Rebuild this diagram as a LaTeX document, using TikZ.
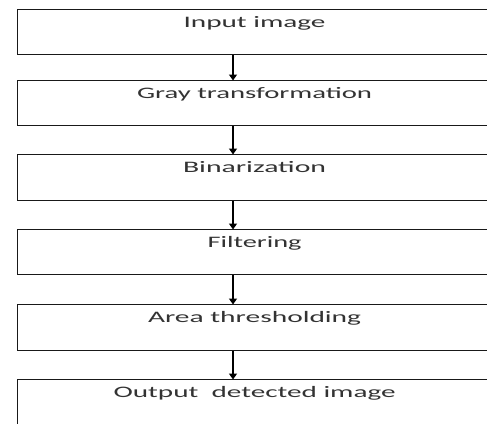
\documentclass[tikz,border=0pt]{standalone}
\usepackage{fontspec}
\setmainfont{Carlito}
\usetikzlibrary{arrows.meta}
\begin{document}
\begin{tikzpicture}[x=1pt,y=1pt,
  stepbox/.style={draw=black!90, line width=1.1pt, rectangle, anchor=north west,
    minimum width=474pt, inner xsep=0pt, inner ysep=0pt,
    text height=17.5pt, text depth=27.5pt, font=\fontsize{16}{18}\selectfont, text=black!80},
  flow/.style={draw=black, line width=1.3pt, -{Triangle[width=8pt,length=6pt]}, shorten >=-0.5pt}
]
\useasboundingbox (0,0) rectangle (487,-423);
\fill[white] (0,0) rectangle (487,-423);
\clip (0,0) rectangle (487,-423);
\coordinate (ax) at (233,0);
\node[stepbox] (b1) at (17,-9)   {\resizebox{142pt}{\height}{Input image}};
\node[stepbox] (b2) at (17,-80)  {\resizebox{235pt}{\height}{Gray transformation}};
\node[stepbox, text depth=28.5pt] (b3) at (17,-154) {\resizebox{143pt}{\height}{Binarization}};
\node[stepbox] (b4) at (17,-229) {\resizebox{94pt}{\height}{Filtering}};
\node[stepbox, text depth=28.5pt] (b5) at (17,-304) {\resizebox{213pt}{\height}{Area thresholding}};
\node[stepbox, text depth=40pt] (b6) at (17,-379) {\resizebox{282pt}{\height}{Output\ \ detected image}};
\draw[flow] (b1.south -| ax) -- (b2.north -| ax);
\draw[flow] (b2.south -| ax) -- (b3.north -| ax);
\draw[flow] (b3.south -| ax) -- (b4.north -| ax);
\draw[flow] (b4.south -| ax) -- (b5.north -| ax);
\draw[flow] (b5.south -| ax) -- (b6.north -| ax);
\end{tikzpicture}
\end{document}
